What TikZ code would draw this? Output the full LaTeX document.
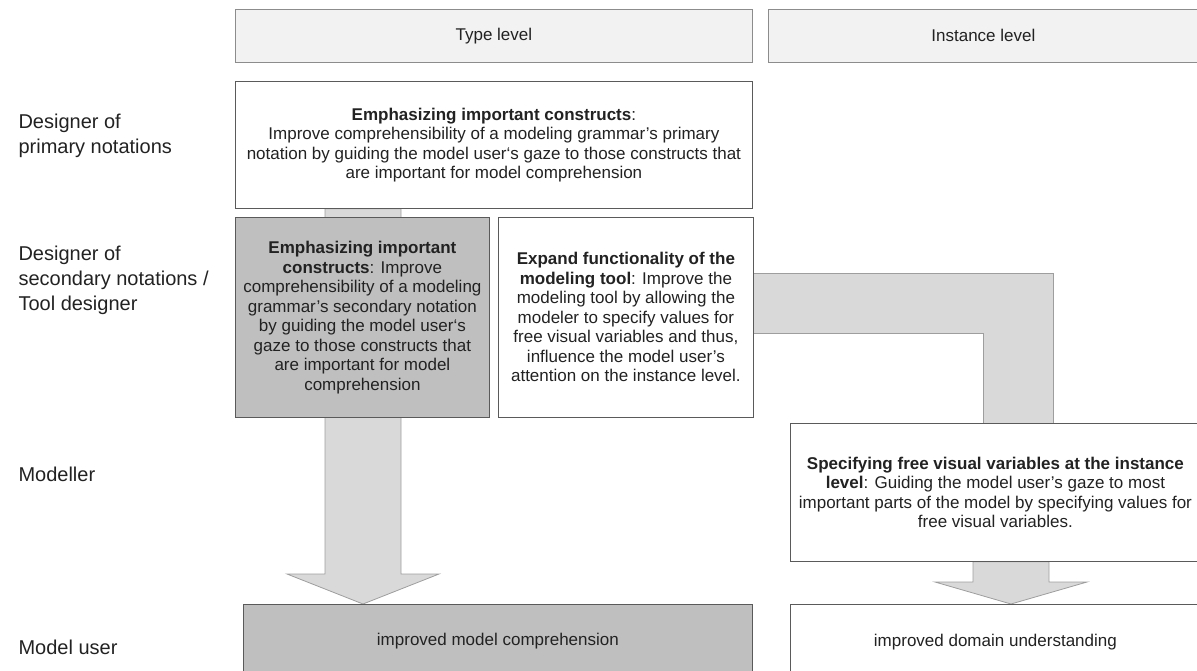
\documentclass[tikz,border=0pt]{standalone}
\usepackage{fontspec}
\setmainfont{Liberation Sans}
\usetikzlibrary{calc,backgrounds}
\definecolor{txt}{HTML}{222222}
\definecolor{boxline}{HTML}{5A5A5A}
\definecolor{hdrline}{HTML}{8C8C8C}
\definecolor{hdrfill}{HTML}{F2F2F2}
\definecolor{boxgray}{HTML}{BFBFBF}
\definecolor{bandfill}{HTML}{D9D9D9}
\definecolor{bandline}{HTML}{9E9E9E}
\begin{document}
\begin{tikzpicture}[x=1pt,y=-1pt,
    hdrbox/.style={draw=hdrline,fill=hdrfill,line width=0.8pt,anchor=north west,minimum height=53,text=txt,font=\fontsize{17}{19.5}\selectfont},
    box/.style={draw=boxline,fill=white,line width=0.8pt,anchor=north west,align=center,inner sep=0pt,text=txt,font=\fontsize{17}{19.5}\selectfont},
    graybox/.style={box,fill=boxgray},
    band/.style={draw=bandline,fill=bandfill,line width=0.8pt},
    rowlabel/.style={anchor=west,align=left,text=txt,font=\fontsize{20}{25}\selectfont}]
    \path[use as bounding box,clip] (0,0) rectangle (1197,670);
    % row labels
    \node[rowlabel] (rprim) at (15,135.5) {Designer of\\primary notations};
    \node[rowlabel] (rsec) at (15,280) {Designer of\\secondary notations /\\Tool designer};
    \node[rowlabel] (rmod) at (15,474) {Modeller};
    \node[rowlabel] (ruser) at (15,647) {Model user};
    % column headers
    \node[hdrbox,minimum width=517] (type) at (235,9) {Type level};
    \node[hdrbox,minimum width=430] (inst) at (768,9) {Instance level};
    % boxes
    \node[box,minimum width=517,minimum height=127] (primary) at (235,81)
    {\textbf{Emphasizing important constructs}:\\
    Improve comprehensibility of a modeling grammar’s primary\\
    notation by guiding the model user‘s gaze to those constructs that\\
    are important for model comprehension};
    \node[graybox,minimum width=254,minimum height=200] (second) at (235,217)
    {\textbf{Emphasizing important}\\
    \textbf{constructs}: Improve\\
    comprehensibility of a modeling\\
    grammar’s secondary notation\\
    by guiding the model user‘s\\
    gaze to those constructs that\\
    are important for model\\
    comprehension};
    \node[box,minimum width=255,minimum height=200] (expand) at (498,217)
    {\textbf{Expand functionality of the}\\
    \textbf{modeling tool}: Improve the\\
    modeling tool by allowing the\\
    modeler to specify values for\\
    free visual variables and thus,\\
    influence the model user’s\\
    attention on the instance level.};
    \node[box,minimum width=410,minimum height=138] (spec) at (790,423)
    {\textbf{Specifying free visual variables at the instance}\\
    \textbf{level}: Guiding the model user’s gaze to most\\
    important parts of the model by specifying values for\\
    free visual variables.};
    \node[graybox,minimum width=509,minimum height=74] (comp) at (243,604) {improved model comprehension};
    \node[box,minimum width=410,minimum height=76] (dom) at (790,604) {improved domain understanding};
    % connectors
    \coordinate (tip1) at ($(comp.north west)+(120,0)$);
    \coordinate (top1) at (tip1 |- primary.south);
    \coordinate (tip2) at ($(dom.north west)+(221,0)$);
    \coordinate (top2) at (tip2 |- spec.south);
    \begin{pgfonlayer}{background}
    \draw[band] ($(top1)+(-38,0)$) -- ($(tip1)+(-38,-30)$) -- ($(tip1)+(-76,-30)$) -- (tip1)
        -- ($(tip1)+(76,-30)$) -- ($(tip1)+(38,-30)$) -- ($(top1)+(38,0)$) -- cycle;
    \draw[band] ($(top2)+(-38,0)$) -- ($(tip2)+(-38,-22)$) -- ($(tip2)+(-76,-22)$) -- (tip2)
        -- ($(tip2)+(76,-22)$) -- ($(tip2)+(38,-22)$) -- ($(top2)+(38,0)$) -- cycle;
    \draw[band] ($(expand.north east)+(0,56)$) -| ($(spec.north west)+(263,0)$)
        -- ($(spec.north west)+(193,0)$) |- ($(expand.north east)+(0,116)$) -- cycle;
    \end{pgfonlayer}
\end{tikzpicture}
\end{document}
